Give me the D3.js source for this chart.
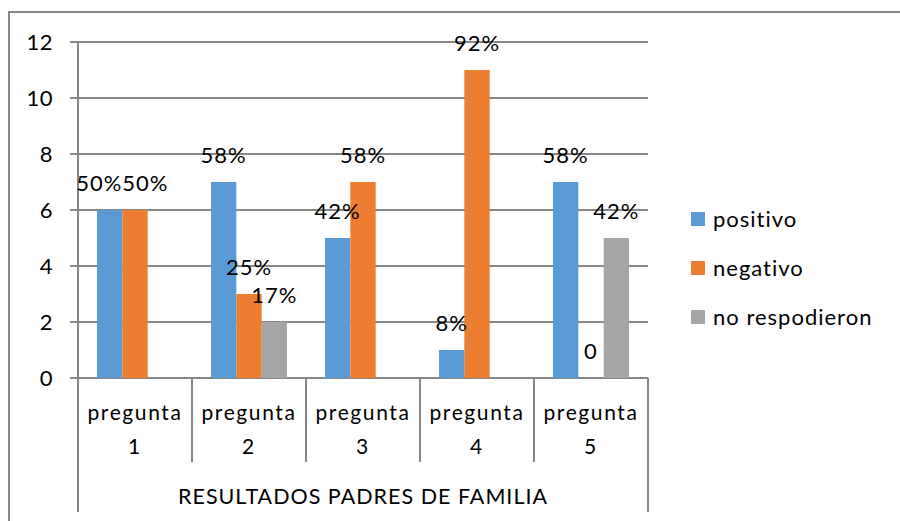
<!DOCTYPE html>
<html lang="es">
<head>
<meta charset="UTF-8">
<title>Resultados padres de familia</title>
<script src="https://d3js.org/d3.v7.min.js"></script>
<style>
  body { margin: 0; background: #fff; }
  text { font-family: Lato, "Open Sans", sans-serif; fill: #000; }
</style>
</head>
<body>
<div id="chart"></div>
<script>

// data
var categories = ["pregunta 1", "pregunta 2", "pregunta 3", "pregunta 4", "pregunta 5"];
var series = ["positivo", "negativo", "no respodieron"];
var positivo = [6, 7, 5, 1, 7];
var negativo = [6, 3, 7, 11, 0];
var noRespondieron = [0, 2, 0, 0, 5];
var labelsPositivo = ["50%", "58%", "42%", "8%", "58%"];
var labelsNegativo = ["50%", "25%", "58%", "92%", "0"];
var labelsNoResp = ["", "17%", "", "", "42%"];
var yTicks = [0, 2, 4, 6, 8, 10, 12];
var axisTitle = "RESULTADOS PADRES DE FAMILIA";

var colors = ["#5B9BD5", "#ED7D31", "#A5A5A5"];
var gridColor = "#878787";

var W = 900, H = 521;
var margin = {top: 42, left: 78, right: 252, bottom: 143};
var plotW = W - margin.left - margin.right,
    plotH = H - margin.top - margin.bottom;

var svg = d3.select("#chart").append("svg")
    .attr("width", W).attr("height", H);

// outer frame (runs off the right and bottom edges)
svg.append("rect")
    .attr("x", 9).attr("y", 12)
    .attr("width", W).attr("height", H)
    .attr("fill", "none")
    .attr("stroke", gridColor).attr("stroke-width", 2);

var g = svg.append("g")
    .attr("transform", "translate(" + margin.left + "," + margin.top + ")");

var y = d3.scaleLinear().domain([0, 12]).range([plotH, 0]);
var x0 = d3.scaleBand().domain(categories).range([0, plotW]).paddingInner(0).paddingOuter(0);
var x1 = d3.scaleBand().domain(series).range([0, x0.bandwidth()]).paddingInner(0).paddingOuter(0.75);

// gridlines with the little ticks on the left
g.append("g")
  .selectAll("line")
  .data(yTicks)
  .enter().append("line")
    .attr("x1", -8).attr("x2", plotW)
    .attr("y1", function (d) { return y(d); })
    .attr("y2", function (d) { return y(d); })
    .attr("stroke", gridColor).attr("stroke-width", 2);

// y axis
var yAxis = g.append("g")
    .call(d3.axisLeft(y).tickValues(yTicks).tickSize(0).tickPadding(25));
yAxis.select(".domain").remove();
yAxis.selectAll("text")
    .style("font-size", "22px")
    .style("letter-spacing", "0.5px")
    .style("font-family", "Lato, sans-serif")
    .attr("fill", "#000");

// axis line on the left
g.append("line")
    .attr("x1", 0).attr("x2", 0)
    .attr("y1", 0).attr("y2", plotH + 134)
    .attr("stroke", gridColor).attr("stroke-width", 2);
// right end of the category axis
g.append("line")
    .attr("x1", plotW).attr("x2", plotW)
    .attr("y1", plotH).attr("y2", plotH + 134)
    .attr("stroke", gridColor).attr("stroke-width", 2);
// category dividers
g.append("g")
  .selectAll("line")
  .data(categories.slice(1))
  .enter().append("line")
    .attr("x1", function (d) { return x0(d); })
    .attr("x2", function (d) { return x0(d); })
    .attr("y1", plotH).attr("y2", plotH + 84)
    .attr("stroke", gridColor).attr("stroke-width", 2);

// bars
var table = categories.map(function (c, i) {
  return {
    cat: c,
    vals: [
      {s: series[0], v: positivo[i], lab: labelsPositivo[i], c: colors[0]},
      {s: series[1], v: negativo[i], lab: labelsNegativo[i], c: colors[1]},
      {s: series[2], v: noRespondieron[i], lab: labelsNoResp[i], c: colors[2]}
    ]
  };
});

var groups = g.selectAll(".grp")
  .data(table)
  .enter().append("g")
    .attr("class", "grp")
    .attr("transform", function (d) { return "translate(" + x0(d.cat) + ",0)"; });

groups.selectAll("rect")
  .data(function (d) { return d.vals; })
  .enter().append("rect")
    .attr("x", function (d) { return x1(d.s); })
    .attr("y", function (d) { return y(d.v); })
    .attr("width", x1.bandwidth())
    .attr("height", function (d) { return plotH - y(d.v); })
    .attr("fill", function (d) { return d.c; });

groups.each(function () {
  var labs = d3.select(this).selectAll(".lab")
    .data(function (d) { return d.vals.filter(function (v) { return v.lab !== ""; }); })
    .enter().append("text")
      .attr("class", "lab")
      .attr("x", function (d) { return x1(d.s) + x1.bandwidth() / 2; })
      .attr("y", function (d) { return y(d.v) - 19; })
      .attr("text-anchor", "middle")
      .style("font-size", "22px")
      .style("letter-spacing", "1px")
      .text(function (d) { return d.lab; });

  // push apart labels sitting side by side at the same height
  var nodes = labs.nodes();
  for (var i = 1; i < nodes.length; i++) {
    var a = d3.select(nodes[i - 1]), b = d3.select(nodes[i]);
    if (Math.abs(+a.attr("y") - +b.attr("y")) > 18) continue;
    var ax = +a.attr("x"), bx = +b.attr("x");
    var need = (nodes[i - 1].getComputedTextLength() + nodes[i].getComputedTextLength()) / 2;
    var overlap = need - (bx - ax);
    if (overlap > 0) {
      a.attr("x", ax - overlap / 2);
      b.attr("x", bx + overlap / 2);
    }
  }
});

// category labels on two lines
var catText = g.append("g")
  .selectAll("text")
  .data(categories)
  .enter().append("text")
    .attr("x", function (d) { return x0(d) + x0.bandwidth() / 2; })
    .attr("y", plotH + 42)
    .attr("text-anchor", "middle")
    .style("font-size", "21px")
    .style("letter-spacing", "1.6px");
catText.append("tspan")
    .attr("x", function (d) { return x0(d) + x0.bandwidth() / 2; })
    .text(function (d) { return d.split(" ")[0]; });
catText.append("tspan")
    .attr("x", function (d) { return x0(d) + x0.bandwidth() / 2; })
    .attr("dy", 34)
    .text(function (d) { return d.split(" ")[1]; });

g.append("text")
    .attr("x", plotW / 2)
    .attr("y", plotH + 126)
    .attr("text-anchor", "middle")
    .style("font-size", "21.5px")
    .style("letter-spacing", "1px")
    .text(axisTitle);

// legend
var legend = svg.append("g")
  .selectAll("g")
  .data(series)
  .enter().append("g")
    .attr("transform", function (d, i) { return "translate(691," + (212 + i * 49) + ")"; });
legend.append("rect")
    .attr("width", 14).attr("height", 14)
    .attr("fill", function (d, i) { return colors[i]; });
legend.append("text")
    .attr("x", 22).attr("y", 15)
    .style("font-size", "22px")
    .style("letter-spacing", "1px")
    .text(function (d) { return d; });

</script>
</body>
</html>
